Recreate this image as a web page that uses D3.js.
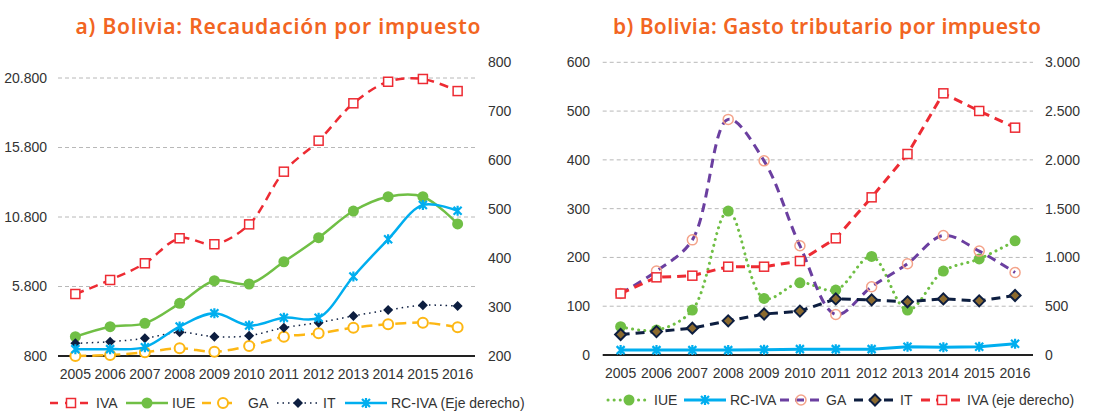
<!DOCTYPE html>
<html>
<head>
<meta charset="utf-8">
<script src="https://cdn.jsdelivr.net/npm/d3@7"></script>
<style>
  html, body { margin: 0; padding: 0; background: #fff; }
  svg { display: block; }
  .tick text { font-family: "Liberation Sans Narrow", "Arial Narrow", sans-serif; font-size: 14px; fill: #333; }
  .legend text { font-family: "Liberation Sans Narrow", "Arial Narrow", sans-serif; font-size: 14px; fill: #333; }
  .title { font-family: "Noto Sans", sans-serif; font-weight: 600; font-size: 21px; fill: #F26522; }
</style>
</head>
<body>
<svg id="chart"></svg>
<script>
const years = [2005, 2006, 2007, 2008, 2009, 2010, 2011, 2012, 2013, 2014, 2015, 2016];

// a) Recaudación por impuesto
const recIVA = [5260, 6270, 7470, 9270, 8840, 10270, 14060, 16290, 18980, 20530, 20730, 19860];
const recIUE = [2190, 2910, 3150, 4590, 6220, 5980, 7580, 9310, 11230, 12260, 12260, 10300];
const recGA = [800, 870, 1070, 1350, 1110, 1520, 2190, 2430, 2840, 3080, 3200, 2870];
const recIT = [1710, 1830, 2070, 2500, 2190, 2260, 2840, 3200, 3680, 4110, 4450, 4400];
const recRCIVA = [214, 214, 218, 260, 287, 262, 278, 278, 362, 438, 508, 496];
const recLeftTicks = [800, 5800, 10800, 15800, 20800];
const recRightTicks = [200, 300, 400, 500, 600, 700, 800];

// b) Gasto tributario por impuesto
const gtIUE = [58, 51, 92, 295, 116, 148, 133, 202, 92, 172, 197, 234];
const gtRCIVA = [10, 10, 10, 10, 11, 12, 12, 12, 17, 16, 17, 23];
const gtGA = [126, 172, 236, 483, 398, 224, 83, 140, 187, 245, 213, 169];
const gtIT = [42, 48, 55, 70, 84, 90, 115, 113, 109, 115, 111, 122];
const gtIVA = [630, 796, 813, 905, 905, 963, 1196, 1616, 2060, 2682, 2501, 2330];
const gtLeftTicks = [0, 100, 200, 300, 400, 500, 600];
const gtRightTicks = [0, 500, 1000, 1500, 2000, 2500, 3000];

const RED = '#ED2B33', GREEN = '#70BF45', ORANGE = '#FDB714', NAVY = '#0D1E40',
      BLUE = '#00AEEF', PURPLE = '#6B3FA0', SALMON = '#F4A38A', GOLD = '#8C6A2E';

const fmt = d3.formatLocale({decimal: ',', thousands: '.', grouping: [3], currency: ['', '']}).format(',d');

const svg = d3.select('#chart').attr('width', 1093).attr('height', 411);

const drawMarker = (g, type, x, y) => {
    if (type === 'square') {
        g.append('rect').attr('x', x - 4.5).attr('y', y - 4.5).attr('width', 9).attr('height', 9)
            .attr('fill', '#fff').attr('stroke', RED).attr('stroke-width', 1.5);
    } else if (type === 'dot') {
        g.append('circle').attr('cx', x).attr('cy', y).attr('r', 5.5).attr('fill', GREEN);
    } else if (type === 'ring') {
        g.append('circle').attr('cx', x).attr('cy', y).attr('r', 5).attr('fill', '#fff')
            .attr('stroke', ORANGE).attr('stroke-width', 2);
    } else if (type === 'salmonRing') {
        g.append('circle').attr('cx', x).attr('cy', y).attr('r', 5).attr('fill', 'none')
            .attr('stroke', SALMON).attr('stroke-width', 1.5);
    } else if (type === 'diamond') {
        g.append('path').attr('d', `M${x},${y - 5}L${x + 5},${y}L${x},${y + 5}L${x - 5},${y}Z`).attr('fill', NAVY);
    } else if (type === 'goldDiamond') {
        g.append('path').attr('d', `M${x},${y - 5.5}L${x + 5.5},${y}L${x},${y + 5.5}L${x - 5.5},${y}Z`)
            .attr('fill', GOLD).attr('stroke', NAVY).attr('stroke-width', 2);
    } else if (type === 'star') {
        g.append('path').attr('d', `M${x - 4},${y - 4}L${x + 4},${y + 4}M${x - 4},${y + 4}L${x + 4},${y - 4}M${x},${y - 5}L${x},${y + 5}`)
            .attr('stroke', BLUE).attr('stroke-width', 2.2).attr('fill', 'none');
    }
};

const drawPanel = (cfg) => {
    const g = svg.append('g');
    const x = d3.scaleBand().domain(years).range(cfg.xRange);
    const cx = d => x(d) + x.bandwidth() / 2;
    const yL = d3.scaleLinear().domain(cfg.leftDomain).range(cfg.leftRange);
    const yR = d3.scaleLinear().domain(cfg.rightDomain).range(cfg.rightRange);

    // gridlines
    g.append('g').selectAll('line').data(cfg.leftTicks.slice(1)).join('line')
        .attr('x1', cfg.xRange[0]).attr('x2', cfg.xRange[1])
        .attr('y1', d => yL(d)).attr('y2', d => yL(d))
        .attr('stroke', '#B8B8B8').attr('stroke-dasharray', '4,3');
    g.append('line').attr('x1', cfg.xRange[0]).attr('x2', cfg.xRange[1])
        .attr('y1', yL(cfg.leftDomain[0])).attr('y2', yL(cfg.leftDomain[0]))
        .attr('stroke', '#222').attr('stroke-width', 2);

    const la = g.append('g').attr('transform', `translate(${cfg.leftAxisX},0)`)
        .call(d3.axisLeft(yL).tickValues(cfg.leftTicks).tickFormat(fmt).tickSize(0).tickPadding(0));
    la.select('.domain').remove();
    const ra = g.append('g').attr('transform', `translate(${cfg.rightAxisX},0)`)
        .call(d3.axisRight(yR).tickValues(cfg.rightTicks).tickFormat(fmt).tickSize(0).tickPadding(0));
    ra.select('.domain').remove();
    const xa = g.append('g').attr('transform', `translate(0,${yL(cfg.leftDomain[0])})`)
        .call(d3.axisBottom(x).tickSize(0).tickPadding(13));
    xa.select('.domain').remove();

    cfg.series.forEach(s => {
        const y = s.axis === 'right' ? yR : yL;
        const line = d3.line().x((d, i) => cx(years[i])).y(d => y(d))
            .curve(s.smooth ? d3.curveCatmullRom.alpha(0.5) : d3.curveLinear);
        g.append('path').datum(s.values).attr('d', line)
            .attr('fill', 'none').attr('stroke', s.color).attr('stroke-width', s.width)
            .attr('stroke-dasharray', s.dash).attr('stroke-linecap', s.cap || 'butt');
        const mg = g.append('g');
        s.values.forEach((v, i) => drawMarker(mg, s.marker, cx(years[i]), y(v)));
    });

    // legend
    const lg = g.append('g').attr('class', 'legend');
    cfg.series.forEach((s, i) => {
        const lx = cfg.legendX[i];
        lg.append('line').attr('x1', lx).attr('x2', lx + 42).attr('y1', cfg.legendY).attr('y2', cfg.legendY)
            .attr('stroke', s.color).attr('stroke-width', s.width).attr('stroke-dasharray', s.legendDash || s.dash)
            .attr('stroke-linecap', s.cap || 'butt');
        drawMarker(lg, s.marker, lx + 21, cfg.legendY);
        lg.append('text').attr('x', lx + 46).attr('y', cfg.legendY).attr('dy', '0.35em').text(s.label);
    });

    svg.append('text').attr('class', 'title')
        .attr('x', cfg.titleX).attr('y', 34).attr('text-anchor', 'middle')
        .attr('textLength', cfg.titleWidth).attr('lengthAdjust', 'spacing').text(cfg.title);
};

drawPanel({
    title: 'a) Bolivia: Recaudación por impuesto',
    titleX: 278, titleWidth: 405,
    xRange: [58, 475],
    leftDomain: [800, 20800], leftRange: [356, 78],
    rightDomain: [200, 800], rightRange: [356, 61.7],
    leftTicks: recLeftTicks, rightTicks: recRightTicks,
    leftAxisX: 47, rightAxisX: 488,
    legendY: 403, legendX: [50, 126, 202, 277, 345],
    series: [
        {label: 'IVA', values: recIVA, color: RED, width: 2.5, dash: '9,6', marker: 'square', smooth: true, legendDash: '8,7'},
        {label: 'IUE', values: recIUE, color: GREEN, width: 2.5, dash: null, marker: 'dot', smooth: true},
        {label: 'GA', values: recGA, color: ORANGE, width: 2.5, dash: '11,6', marker: 'ring', smooth: true, legendDash: '9,12'},
        {label: 'IT', values: recIT, color: NAVY, width: 1.5, dash: '1.5,4', marker: 'diamond', smooth: true},
        {label: 'RC-IVA (Eje derecho)', values: recRCIVA, color: BLUE, width: 2.5, dash: null, marker: 'star', smooth: true, axis: 'right'}
    ]
});

drawPanel({
    title: 'b) Bolivia: Gasto tributario por impuesto',
    titleX: 827, titleWidth: 428,
    xRange: [602.7, 1033],
    leftDomain: [0, 600], leftRange: [355, 62.3],
    rightDomain: [0, 3000], rightRange: [355, 62.3],
    leftTicks: gtLeftTicks, rightTicks: gtRightTicks,
    leftAxisX: 590, rightAxisX: 1045,
    legendY: 400, legendX: [608, 684, 780, 854, 921],
    series: [
        {label: 'IUE', values: gtIUE, color: GREEN, width: 3, dash: '0.1,6', cap: 'round', marker: 'dot', smooth: true},
        {label: 'RC-IVA', values: gtRCIVA, color: BLUE, width: 3, dash: null, marker: 'star', smooth: false},
        {label: 'GA', values: gtGA, color: PURPLE, width: 3, dash: '9,6', marker: 'salmonRing', smooth: true},
        {label: 'IT', values: gtIT, color: NAVY, width: 3, dash: '9,6', marker: 'goldDiamond', smooth: false},
        {label: 'IVA (eje derecho)', values: gtIVA, color: RED, width: 3, dash: '9,6', marker: 'square', smooth: false, axis: 'right'}
    ]
});
</script>
</body>
</html>
